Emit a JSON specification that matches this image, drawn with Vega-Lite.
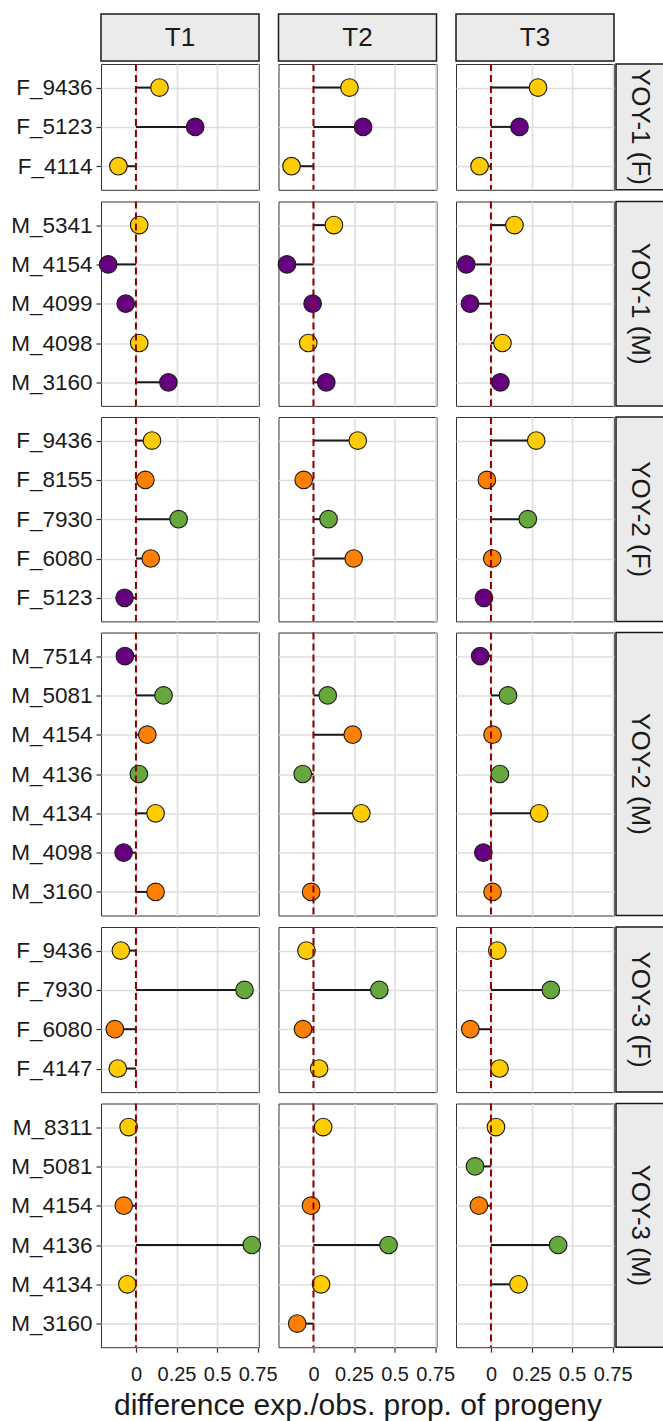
{
  "$schema": "https://vega.github.io/schema/vega-lite/v6.json",
  "background": "white",
  "padding": {"left": 10, "top": 13, "right": 0, "bottom": 0},
  "datasets": {
    "pts": [
      {"cohort": "YOY-1 (F)", "time": "T1", "id": "F_9436", "diff": 0.145, "grp": "B"},
      {"cohort": "YOY-1 (F)", "time": "T1", "id": "F_5123", "diff": 0.365, "grp": "A"},
      {"cohort": "YOY-1 (F)", "time": "T1", "id": "F_4114", "diff": -0.108, "grp": "B"},
      {"cohort": "YOY-1 (F)", "time": "T2", "id": "F_9436", "diff": 0.222, "grp": "B"},
      {"cohort": "YOY-1 (F)", "time": "T2", "id": "F_5123", "diff": 0.306, "grp": "A"},
      {"cohort": "YOY-1 (F)", "time": "T2", "id": "F_4114", "diff": -0.135, "grp": "B"},
      {"cohort": "YOY-1 (F)", "time": "T3", "id": "F_9436", "diff": 0.29, "grp": "B"},
      {"cohort": "YOY-1 (F)", "time": "T3", "id": "F_5123", "diff": 0.176, "grp": "A"},
      {"cohort": "YOY-1 (F)", "time": "T3", "id": "F_4114", "diff": -0.07, "grp": "B"},

      {"cohort": "YOY-1 (M)", "time": "T1", "id": "M_5341", "diff": 0.02, "grp": "B"},
      {"cohort": "YOY-1 (M)", "time": "T1", "id": "M_4154", "diff": -0.171, "grp": "A"},
      {"cohort": "YOY-1 (M)", "time": "T1", "id": "M_4099", "diff": -0.063, "grp": "A"},
      {"cohort": "YOY-1 (M)", "time": "T1", "id": "M_4098", "diff": 0.02, "grp": "B"},
      {"cohort": "YOY-1 (M)", "time": "T1", "id": "M_3160", "diff": 0.2, "grp": "A"},
      {"cohort": "YOY-1 (M)", "time": "T2", "id": "M_5341", "diff": 0.126, "grp": "B"},
      {"cohort": "YOY-1 (M)", "time": "T2", "id": "M_4154", "diff": -0.163, "grp": "A"},
      {"cohort": "YOY-1 (M)", "time": "T2", "id": "M_4099", "diff": -0.005, "grp": "A"},
      {"cohort": "YOY-1 (M)", "time": "T2", "id": "M_4098", "diff": -0.032, "grp": "B"},
      {"cohort": "YOY-1 (M)", "time": "T2", "id": "M_3160", "diff": 0.079, "grp": "A"},
      {"cohort": "YOY-1 (M)", "time": "T3", "id": "M_5341", "diff": 0.145, "grp": "B"},
      {"cohort": "YOY-1 (M)", "time": "T3", "id": "M_4154", "diff": -0.152, "grp": "A"},
      {"cohort": "YOY-1 (M)", "time": "T3", "id": "M_4099", "diff": -0.129, "grp": "A"},
      {"cohort": "YOY-1 (M)", "time": "T3", "id": "M_4098", "diff": 0.071, "grp": "B"},
      {"cohort": "YOY-1 (M)", "time": "T3", "id": "M_3160", "diff": 0.058, "grp": "A"},

      {"cohort": "YOY-2 (F)", "time": "T1", "id": "F_9436", "diff": 0.099, "grp": "B"},
      {"cohort": "YOY-2 (F)", "time": "T1", "id": "F_8155", "diff": 0.058, "grp": "C"},
      {"cohort": "YOY-2 (F)", "time": "T1", "id": "F_7930", "diff": 0.263, "grp": "D"},
      {"cohort": "YOY-2 (F)", "time": "T1", "id": "F_6080", "diff": 0.091, "grp": "C"},
      {"cohort": "YOY-2 (F)", "time": "T1", "id": "F_5123", "diff": -0.07, "grp": "A"},
      {"cohort": "YOY-2 (F)", "time": "T2", "id": "F_9436", "diff": 0.273, "grp": "B"},
      {"cohort": "YOY-2 (F)", "time": "T2", "id": "F_8155", "diff": -0.06, "grp": "C"},
      {"cohort": "YOY-2 (F)", "time": "T2", "id": "F_7930", "diff": 0.093, "grp": "D"},
      {"cohort": "YOY-2 (F)", "time": "T2", "id": "F_6080", "diff": 0.248, "grp": "C"},
      {"cohort": "YOY-2 (F)", "time": "T3", "id": "F_9436", "diff": 0.279, "grp": "B"},
      {"cohort": "YOY-2 (F)", "time": "T3", "id": "F_8155", "diff": -0.025, "grp": "C"},
      {"cohort": "YOY-2 (F)", "time": "T3", "id": "F_7930", "diff": 0.227, "grp": "D"},
      {"cohort": "YOY-2 (F)", "time": "T3", "id": "F_6080", "diff": 0.008, "grp": "C"},
      {"cohort": "YOY-2 (F)", "time": "T3", "id": "F_5123", "diff": -0.043, "grp": "A"},

      {"cohort": "YOY-2 (M)", "time": "T1", "id": "M_7514", "diff": -0.068, "grp": "A"},
      {"cohort": "YOY-2 (M)", "time": "T1", "id": "M_5081", "diff": 0.17, "grp": "D"},
      {"cohort": "YOY-2 (M)", "time": "T1", "id": "M_4154", "diff": 0.07, "grp": "C"},
      {"cohort": "YOY-2 (M)", "time": "T1", "id": "M_4136", "diff": 0.018, "grp": "D"},
      {"cohort": "YOY-2 (M)", "time": "T1", "id": "M_4134", "diff": 0.121, "grp": "B"},
      {"cohort": "YOY-2 (M)", "time": "T1", "id": "M_4098", "diff": -0.076, "grp": "A"},
      {"cohort": "YOY-2 (M)", "time": "T1", "id": "M_3160", "diff": 0.121, "grp": "C"},
      {"cohort": "YOY-2 (M)", "time": "T2", "id": "M_5081", "diff": 0.088, "grp": "D"},
      {"cohort": "YOY-2 (M)", "time": "T2", "id": "M_4154", "diff": 0.242, "grp": "C"},
      {"cohort": "YOY-2 (M)", "time": "T2", "id": "M_4136", "diff": -0.066, "grp": "D"},
      {"cohort": "YOY-2 (M)", "time": "T2", "id": "M_4134", "diff": 0.295, "grp": "B"},
      {"cohort": "YOY-2 (M)", "time": "T2", "id": "M_3160", "diff": -0.014, "grp": "C"},
      {"cohort": "YOY-2 (M)", "time": "T3", "id": "M_7514", "diff": -0.066, "grp": "A"},
      {"cohort": "YOY-2 (M)", "time": "T3", "id": "M_5081", "diff": 0.105, "grp": "D"},
      {"cohort": "YOY-2 (M)", "time": "T3", "id": "M_4154", "diff": 0.01, "grp": "C"},
      {"cohort": "YOY-2 (M)", "time": "T3", "id": "M_4136", "diff": 0.055, "grp": "D"},
      {"cohort": "YOY-2 (M)", "time": "T3", "id": "M_4134", "diff": 0.297, "grp": "B"},
      {"cohort": "YOY-2 (M)", "time": "T3", "id": "M_4098", "diff": -0.047, "grp": "A"},
      {"cohort": "YOY-2 (M)", "time": "T3", "id": "M_3160", "diff": 0.01, "grp": "C"},

      {"cohort": "YOY-3 (F)", "time": "T1", "id": "F_9436", "diff": -0.093, "grp": "B"},
      {"cohort": "YOY-3 (F)", "time": "T1", "id": "F_7930", "diff": 0.669, "grp": "D"},
      {"cohort": "YOY-3 (F)", "time": "T1", "id": "F_6080", "diff": -0.13, "grp": "C"},
      {"cohort": "YOY-3 (F)", "time": "T1", "id": "F_4147", "diff": -0.112, "grp": "B"},
      {"cohort": "YOY-3 (F)", "time": "T2", "id": "F_9436", "diff": -0.043, "grp": "B"},
      {"cohort": "YOY-3 (F)", "time": "T2", "id": "F_7930", "diff": 0.406, "grp": "D"},
      {"cohort": "YOY-3 (F)", "time": "T2", "id": "F_6080", "diff": -0.064, "grp": "C"},
      {"cohort": "YOY-3 (F)", "time": "T2", "id": "F_4147", "diff": 0.035, "grp": "B"},
      {"cohort": "YOY-3 (F)", "time": "T3", "id": "F_9436", "diff": 0.039, "grp": "B"},
      {"cohort": "YOY-3 (F)", "time": "T3", "id": "F_7930", "diff": 0.369, "grp": "D"},
      {"cohort": "YOY-3 (F)", "time": "T3", "id": "F_6080", "diff": -0.127, "grp": "C"},
      {"cohort": "YOY-3 (F)", "time": "T3", "id": "F_4147", "diff": 0.053, "grp": "B"},

      {"cohort": "YOY-3 (M)", "time": "T1", "id": "M_8311", "diff": -0.045, "grp": "B"},
      {"cohort": "YOY-3 (M)", "time": "T1", "id": "M_4154", "diff": -0.075, "grp": "C"},
      {"cohort": "YOY-3 (M)", "time": "T1", "id": "M_4136", "diff": 0.714, "grp": "D"},
      {"cohort": "YOY-3 (M)", "time": "T1", "id": "M_4134", "diff": -0.053, "grp": "B"},
      {"cohort": "YOY-3 (M)", "time": "T2", "id": "M_8311", "diff": 0.06, "grp": "B"},
      {"cohort": "YOY-3 (M)", "time": "T2", "id": "M_4154", "diff": -0.015, "grp": "C"},
      {"cohort": "YOY-3 (M)", "time": "T2", "id": "M_4136", "diff": 0.463, "grp": "D"},
      {"cohort": "YOY-3 (M)", "time": "T2", "id": "M_4134", "diff": 0.047, "grp": "B"},
      {"cohort": "YOY-3 (M)", "time": "T2", "id": "M_3160", "diff": -0.1, "grp": "C"},
      {"cohort": "YOY-3 (M)", "time": "T3", "id": "M_8311", "diff": 0.031, "grp": "B"},
      {"cohort": "YOY-3 (M)", "time": "T3", "id": "M_5081", "diff": -0.098, "grp": "D"},
      {"cohort": "YOY-3 (M)", "time": "T3", "id": "M_4154", "diff": -0.074, "grp": "C"},
      {"cohort": "YOY-3 (M)", "time": "T3", "id": "M_4136", "diff": 0.414, "grp": "D"},
      {"cohort": "YOY-3 (M)", "time": "T3", "id": "M_4134", "diff": 0.17, "grp": "B"}
    ]
  },
  "spacing": 0,
  "vconcat": [
    {
      "hconcat": [
        {"width": 158, "height": 47, "view": {"fill": "#EBEBEB", "stroke": "#1A1A1A", "strokeWidth": 1.5}, "data": {"values": [{"label": "T1"}]}, "mark": {"type": "text", "fontSize": 26, "color": "#1A1A1A"}, "encoding": {"text": {"field": "label", "type": "nominal"}}},
        {"width": 158, "height": 47, "view": {"fill": "#EBEBEB", "stroke": "#1A1A1A", "strokeWidth": 1.5}, "data": {"values": [{"label": "T2"}]}, "mark": {"type": "text", "fontSize": 26, "color": "#1A1A1A"}, "encoding": {"text": {"field": "label", "type": "nominal"}}},
        {"width": 158, "height": 47, "view": {"fill": "#EBEBEB", "stroke": "#1A1A1A", "strokeWidth": 1.5}, "data": {"values": [{"label": "T3"}]}, "mark": {"type": "text", "fontSize": 26, "color": "#1A1A1A"}, "encoding": {"text": {"field": "label", "type": "nominal"}}}
      ],
      "spacing": 19.5,
      "bounds": "flush"
    },
    {
      "spacing": 7.5,
      "vconcat": [
        {
          "spacing": 0,
          "hconcat": [
            {
              "spacing": 19.5, "bounds": "flush",
              "hconcat": [
                {"width": 158, "height": 125.8, "layer": [
                  {"data": {"name": "pts"}, "transform": [{"filter": "datum.cohort == 'YOY-1 (F)' && datum.time == 'T1'"}], "layer": [
                    {"mark": {"type": "rule", "color": "#1A1A1A", "strokeWidth": 2}, "encoding": {"x": {"field": "diff", "type": "quantitative", "scale": {"domain": [-0.2153, 0.7583], "nice": false, "zero": false}, "axis": {"values": [0, 0.25, 0.5, 0.75], "labels": false, "ticks": false, "title": null, "grid": true}}, "x2": {"datum": 0}, "y": {"field": "id", "type": "nominal", "scale": {"type": "point", "padding": 0.6, "domain": ["F_9436", "F_5123", "F_4114"]}, "axis": {"title": null, "grid": true}}}},
                    {"mark": {"type": "circle", "size": 310, "opacity": 1, "stroke": "#1A1A1A", "strokeWidth": 1.1}, "encoding": {"x": {"field": "diff", "type": "quantitative"}, "y": {"field": "id", "type": "nominal"}, "color": {"field": "grp", "type": "nominal", "scale": {"domain": ["A", "B", "C", "D"], "range": ["#660080", "#FFCC00", "#FF8000", "#66A83C"]}, "legend": null}}}
                  ]},
                  {"data": {"values": [{"zero": 0}]}, "mark": {"type": "rule", "color": "#8B0000", "strokeDash": [7, 4], "strokeWidth": 2}, "encoding": {"x": {"field": "zero", "type": "quantitative"}}}
                ]},
                {"width": 158, "height": 125.8, "layer": [
                  {"data": {"name": "pts"}, "transform": [{"filter": "datum.cohort == 'YOY-1 (F)' && datum.time == 'T2'"}], "layer": [
                    {"mark": {"type": "rule", "color": "#1A1A1A", "strokeWidth": 2}, "encoding": {"x": {"field": "diff", "type": "quantitative", "scale": {"domain": [-0.2153, 0.7583], "nice": false, "zero": false}, "axis": {"values": [0, 0.25, 0.5, 0.75], "labels": false, "ticks": false, "title": null, "grid": true}}, "x2": {"datum": 0}, "y": {"field": "id", "type": "nominal", "scale": {"type": "point", "padding": 0.6, "domain": ["F_9436", "F_5123", "F_4114"]}, "axis": {"title": null, "grid": true, "labels": false, "ticks": false}}}},
                    {"mark": {"type": "circle", "size": 310, "opacity": 1, "stroke": "#1A1A1A", "strokeWidth": 1.1}, "encoding": {"x": {"field": "diff", "type": "quantitative"}, "y": {"field": "id", "type": "nominal"}, "color": {"field": "grp", "type": "nominal", "scale": {"domain": ["A", "B", "C", "D"], "range": ["#660080", "#FFCC00", "#FF8000", "#66A83C"]}, "legend": null}}}
                  ]},
                  {"data": {"values": [{"zero": 0}]}, "mark": {"type": "rule", "color": "#8B0000", "strokeDash": [7, 4], "strokeWidth": 2}, "encoding": {"x": {"field": "zero", "type": "quantitative"}}}
                ]},
                {"width": 158, "height": 125.8, "layer": [
                  {"data": {"name": "pts"}, "transform": [{"filter": "datum.cohort == 'YOY-1 (F)' && datum.time == 'T3'"}], "layer": [
                    {"mark": {"type": "rule", "color": "#1A1A1A", "strokeWidth": 2}, "encoding": {"x": {"field": "diff", "type": "quantitative", "scale": {"domain": [-0.2153, 0.7583], "nice": false, "zero": false}, "axis": {"values": [0, 0.25, 0.5, 0.75], "labels": false, "ticks": false, "title": null, "grid": true}}, "x2": {"datum": 0}, "y": {"field": "id", "type": "nominal", "scale": {"type": "point", "padding": 0.6, "domain": ["F_9436", "F_5123", "F_4114"]}, "axis": {"title": null, "grid": true, "labels": false, "ticks": false}}}},
                    {"mark": {"type": "circle", "size": 310, "opacity": 1, "stroke": "#1A1A1A", "strokeWidth": 1.1}, "encoding": {"x": {"field": "diff", "type": "quantitative"}, "y": {"field": "id", "type": "nominal"}, "color": {"field": "grp", "type": "nominal", "scale": {"domain": ["A", "B", "C", "D"], "range": ["#660080", "#FFCC00", "#FF8000", "#66A83C"]}, "legend": null}}}
                  ]},
                  {"data": {"values": [{"zero": 0}]}, "mark": {"type": "rule", "color": "#8B0000", "strokeDash": [7, 4], "strokeWidth": 2}, "encoding": {"x": {"field": "zero", "type": "quantitative"}}}
                ]}
              ]
            },
            {"width": 48, "height": 125.8, "view": {"fill": "#EBEBEB", "stroke": "#1A1A1A", "strokeWidth": 1.5}, "data": {"values": [{"label": "YOY-1 (F)"}]}, "mark": {"type": "text", "angle": 90, "fontSize": 26, "color": "#1A1A1A"}, "encoding": {"text": {"field": "label", "type": "nominal"}}}
          ]
        },
        {
          "spacing": 0,
          "hconcat": [
            {
              "spacing": 19.5, "bounds": "flush",
              "hconcat": [
                {"width": 158, "height": 204.4, "layer": [
                  {"data": {"name": "pts"}, "transform": [{"filter": "datum.cohort == 'YOY-1 (M)' && datum.time == 'T1'"}], "layer": [
                    {"mark": {"type": "rule", "color": "#1A1A1A", "strokeWidth": 2}, "encoding": {"x": {"field": "diff", "type": "quantitative", "scale": {"domain": [-0.2153, 0.7583], "nice": false, "zero": false}, "axis": {"values": [0, 0.25, 0.5, 0.75], "labels": false, "ticks": false, "title": null, "grid": true}}, "x2": {"datum": 0}, "y": {"field": "id", "type": "nominal", "scale": {"type": "point", "padding": 0.6, "domain": ["M_5341", "M_4154", "M_4099", "M_4098", "M_3160"]}, "axis": {"title": null, "grid": true}}}},
                    {"mark": {"type": "circle", "size": 310, "opacity": 1, "stroke": "#1A1A1A", "strokeWidth": 1.1}, "encoding": {"x": {"field": "diff", "type": "quantitative"}, "y": {"field": "id", "type": "nominal"}, "color": {"field": "grp", "type": "nominal", "scale": {"domain": ["A", "B", "C", "D"], "range": ["#660080", "#FFCC00", "#FF8000", "#66A83C"]}, "legend": null}}}
                  ]},
                  {"data": {"values": [{"zero": 0}]}, "mark": {"type": "rule", "color": "#8B0000", "strokeDash": [7, 4], "strokeWidth": 2}, "encoding": {"x": {"field": "zero", "type": "quantitative"}}}
                ]},
                {"width": 158, "height": 204.4, "layer": [
                  {"data": {"name": "pts"}, "transform": [{"filter": "datum.cohort == 'YOY-1 (M)' && datum.time == 'T2'"}], "layer": [
                    {"mark": {"type": "rule", "color": "#1A1A1A", "strokeWidth": 2}, "encoding": {"x": {"field": "diff", "type": "quantitative", "scale": {"domain": [-0.2153, 0.7583], "nice": false, "zero": false}, "axis": {"values": [0, 0.25, 0.5, 0.75], "labels": false, "ticks": false, "title": null, "grid": true}}, "x2": {"datum": 0}, "y": {"field": "id", "type": "nominal", "scale": {"type": "point", "padding": 0.6, "domain": ["M_5341", "M_4154", "M_4099", "M_4098", "M_3160"]}, "axis": {"title": null, "grid": true, "labels": false, "ticks": false}}}},
                    {"mark": {"type": "circle", "size": 310, "opacity": 1, "stroke": "#1A1A1A", "strokeWidth": 1.1}, "encoding": {"x": {"field": "diff", "type": "quantitative"}, "y": {"field": "id", "type": "nominal"}, "color": {"field": "grp", "type": "nominal", "scale": {"domain": ["A", "B", "C", "D"], "range": ["#660080", "#FFCC00", "#FF8000", "#66A83C"]}, "legend": null}}}
                  ]},
                  {"data": {"values": [{"zero": 0}]}, "mark": {"type": "rule", "color": "#8B0000", "strokeDash": [7, 4], "strokeWidth": 2}, "encoding": {"x": {"field": "zero", "type": "quantitative"}}}
                ]},
                {"width": 158, "height": 204.4, "layer": [
                  {"data": {"name": "pts"}, "transform": [{"filter": "datum.cohort == 'YOY-1 (M)' && datum.time == 'T3'"}], "layer": [
                    {"mark": {"type": "rule", "color": "#1A1A1A", "strokeWidth": 2}, "encoding": {"x": {"field": "diff", "type": "quantitative", "scale": {"domain": [-0.2153, 0.7583], "nice": false, "zero": false}, "axis": {"values": [0, 0.25, 0.5, 0.75], "labels": false, "ticks": false, "title": null, "grid": true}}, "x2": {"datum": 0}, "y": {"field": "id", "type": "nominal", "scale": {"type": "point", "padding": 0.6, "domain": ["M_5341", "M_4154", "M_4099", "M_4098", "M_3160"]}, "axis": {"title": null, "grid": true, "labels": false, "ticks": false}}}},
                    {"mark": {"type": "circle", "size": 310, "opacity": 1, "stroke": "#1A1A1A", "strokeWidth": 1.1}, "encoding": {"x": {"field": "diff", "type": "quantitative"}, "y": {"field": "id", "type": "nominal"}, "color": {"field": "grp", "type": "nominal", "scale": {"domain": ["A", "B", "C", "D"], "range": ["#660080", "#FFCC00", "#FF8000", "#66A83C"]}, "legend": null}}}
                  ]},
                  {"data": {"values": [{"zero": 0}]}, "mark": {"type": "rule", "color": "#8B0000", "strokeDash": [7, 4], "strokeWidth": 2}, "encoding": {"x": {"field": "zero", "type": "quantitative"}}}
                ]}
              ]
            },
            {"width": 48, "height": 204.4, "view": {"fill": "#EBEBEB", "stroke": "#1A1A1A", "strokeWidth": 1.5}, "data": {"values": [{"label": "YOY-1 (M)"}]}, "mark": {"type": "text", "angle": 90, "fontSize": 26, "color": "#1A1A1A"}, "encoding": {"text": {"field": "label", "type": "nominal"}}}
          ]
        },
        {
          "spacing": 0,
          "hconcat": [
            {
              "spacing": 19.5, "bounds": "flush",
              "hconcat": [
                {"width": 158, "height": 204.4, "layer": [
                  {"data": {"name": "pts"}, "transform": [{"filter": "datum.cohort == 'YOY-2 (F)' && datum.time == 'T1'"}], "layer": [
                    {"mark": {"type": "rule", "color": "#1A1A1A", "strokeWidth": 2}, "encoding": {"x": {"field": "diff", "type": "quantitative", "scale": {"domain": [-0.2153, 0.7583], "nice": false, "zero": false}, "axis": {"values": [0, 0.25, 0.5, 0.75], "labels": false, "ticks": false, "title": null, "grid": true}}, "x2": {"datum": 0}, "y": {"field": "id", "type": "nominal", "scale": {"type": "point", "padding": 0.6, "domain": ["F_9436", "F_8155", "F_7930", "F_6080", "F_5123"]}, "axis": {"title": null, "grid": true}}}},
                    {"mark": {"type": "circle", "size": 310, "opacity": 1, "stroke": "#1A1A1A", "strokeWidth": 1.1}, "encoding": {"x": {"field": "diff", "type": "quantitative"}, "y": {"field": "id", "type": "nominal"}, "color": {"field": "grp", "type": "nominal", "scale": {"domain": ["A", "B", "C", "D"], "range": ["#660080", "#FFCC00", "#FF8000", "#66A83C"]}, "legend": null}}}
                  ]},
                  {"data": {"values": [{"zero": 0}]}, "mark": {"type": "rule", "color": "#8B0000", "strokeDash": [7, 4], "strokeWidth": 2}, "encoding": {"x": {"field": "zero", "type": "quantitative"}}}
                ]},
                {"width": 158, "height": 204.4, "layer": [
                  {"data": {"name": "pts"}, "transform": [{"filter": "datum.cohort == 'YOY-2 (F)' && datum.time == 'T2'"}], "layer": [
                    {"mark": {"type": "rule", "color": "#1A1A1A", "strokeWidth": 2}, "encoding": {"x": {"field": "diff", "type": "quantitative", "scale": {"domain": [-0.2153, 0.7583], "nice": false, "zero": false}, "axis": {"values": [0, 0.25, 0.5, 0.75], "labels": false, "ticks": false, "title": null, "grid": true}}, "x2": {"datum": 0}, "y": {"field": "id", "type": "nominal", "scale": {"type": "point", "padding": 0.6, "domain": ["F_9436", "F_8155", "F_7930", "F_6080", "F_5123"]}, "axis": {"title": null, "grid": true, "labels": false, "ticks": false}}}},
                    {"mark": {"type": "circle", "size": 310, "opacity": 1, "stroke": "#1A1A1A", "strokeWidth": 1.1}, "encoding": {"x": {"field": "diff", "type": "quantitative"}, "y": {"field": "id", "type": "nominal"}, "color": {"field": "grp", "type": "nominal", "scale": {"domain": ["A", "B", "C", "D"], "range": ["#660080", "#FFCC00", "#FF8000", "#66A83C"]}, "legend": null}}}
                  ]},
                  {"data": {"values": [{"zero": 0}]}, "mark": {"type": "rule", "color": "#8B0000", "strokeDash": [7, 4], "strokeWidth": 2}, "encoding": {"x": {"field": "zero", "type": "quantitative"}}}
                ]},
                {"width": 158, "height": 204.4, "layer": [
                  {"data": {"name": "pts"}, "transform": [{"filter": "datum.cohort == 'YOY-2 (F)' && datum.time == 'T3'"}], "layer": [
                    {"mark": {"type": "rule", "color": "#1A1A1A", "strokeWidth": 2}, "encoding": {"x": {"field": "diff", "type": "quantitative", "scale": {"domain": [-0.2153, 0.7583], "nice": false, "zero": false}, "axis": {"values": [0, 0.25, 0.5, 0.75], "labels": false, "ticks": false, "title": null, "grid": true}}, "x2": {"datum": 0}, "y": {"field": "id", "type": "nominal", "scale": {"type": "point", "padding": 0.6, "domain": ["F_9436", "F_8155", "F_7930", "F_6080", "F_5123"]}, "axis": {"title": null, "grid": true, "labels": false, "ticks": false}}}},
                    {"mark": {"type": "circle", "size": 310, "opacity": 1, "stroke": "#1A1A1A", "strokeWidth": 1.1}, "encoding": {"x": {"field": "diff", "type": "quantitative"}, "y": {"field": "id", "type": "nominal"}, "color": {"field": "grp", "type": "nominal", "scale": {"domain": ["A", "B", "C", "D"], "range": ["#660080", "#FFCC00", "#FF8000", "#66A83C"]}, "legend": null}}}
                  ]},
                  {"data": {"values": [{"zero": 0}]}, "mark": {"type": "rule", "color": "#8B0000", "strokeDash": [7, 4], "strokeWidth": 2}, "encoding": {"x": {"field": "zero", "type": "quantitative"}}}
                ]}
              ]
            },
            {"width": 48, "height": 204.4, "view": {"fill": "#EBEBEB", "stroke": "#1A1A1A", "strokeWidth": 1.5}, "data": {"values": [{"label": "YOY-2 (F)"}]}, "mark": {"type": "text", "angle": 90, "fontSize": 26, "color": "#1A1A1A"}, "encoding": {"text": {"field": "label", "type": "nominal"}}}
          ]
        },
        {
          "spacing": 0,
          "hconcat": [
            {
              "spacing": 19.5, "bounds": "flush",
              "hconcat": [
                {"width": 158, "height": 283.0, "layer": [
                  {"data": {"name": "pts"}, "transform": [{"filter": "datum.cohort == 'YOY-2 (M)' && datum.time == 'T1'"}], "layer": [
                    {"mark": {"type": "rule", "color": "#1A1A1A", "strokeWidth": 2}, "encoding": {"x": {"field": "diff", "type": "quantitative", "scale": {"domain": [-0.2153, 0.7583], "nice": false, "zero": false}, "axis": {"values": [0, 0.25, 0.5, 0.75], "labels": false, "ticks": false, "title": null, "grid": true}}, "x2": {"datum": 0}, "y": {"field": "id", "type": "nominal", "scale": {"type": "point", "padding": 0.6, "domain": ["M_7514", "M_5081", "M_4154", "M_4136", "M_4134", "M_4098", "M_3160"]}, "axis": {"title": null, "grid": true}}}},
                    {"mark": {"type": "circle", "size": 310, "opacity": 1, "stroke": "#1A1A1A", "strokeWidth": 1.1}, "encoding": {"x": {"field": "diff", "type": "quantitative"}, "y": {"field": "id", "type": "nominal"}, "color": {"field": "grp", "type": "nominal", "scale": {"domain": ["A", "B", "C", "D"], "range": ["#660080", "#FFCC00", "#FF8000", "#66A83C"]}, "legend": null}}}
                  ]},
                  {"data": {"values": [{"zero": 0}]}, "mark": {"type": "rule", "color": "#8B0000", "strokeDash": [7, 4], "strokeWidth": 2}, "encoding": {"x": {"field": "zero", "type": "quantitative"}}}
                ]},
                {"width": 158, "height": 283.0, "layer": [
                  {"data": {"name": "pts"}, "transform": [{"filter": "datum.cohort == 'YOY-2 (M)' && datum.time == 'T2'"}], "layer": [
                    {"mark": {"type": "rule", "color": "#1A1A1A", "strokeWidth": 2}, "encoding": {"x": {"field": "diff", "type": "quantitative", "scale": {"domain": [-0.2153, 0.7583], "nice": false, "zero": false}, "axis": {"values": [0, 0.25, 0.5, 0.75], "labels": false, "ticks": false, "title": null, "grid": true}}, "x2": {"datum": 0}, "y": {"field": "id", "type": "nominal", "scale": {"type": "point", "padding": 0.6, "domain": ["M_7514", "M_5081", "M_4154", "M_4136", "M_4134", "M_4098", "M_3160"]}, "axis": {"title": null, "grid": true, "labels": false, "ticks": false}}}},
                    {"mark": {"type": "circle", "size": 310, "opacity": 1, "stroke": "#1A1A1A", "strokeWidth": 1.1}, "encoding": {"x": {"field": "diff", "type": "quantitative"}, "y": {"field": "id", "type": "nominal"}, "color": {"field": "grp", "type": "nominal", "scale": {"domain": ["A", "B", "C", "D"], "range": ["#660080", "#FFCC00", "#FF8000", "#66A83C"]}, "legend": null}}}
                  ]},
                  {"data": {"values": [{"zero": 0}]}, "mark": {"type": "rule", "color": "#8B0000", "strokeDash": [7, 4], "strokeWidth": 2}, "encoding": {"x": {"field": "zero", "type": "quantitative"}}}
                ]},
                {"width": 158, "height": 283.0, "layer": [
                  {"data": {"name": "pts"}, "transform": [{"filter": "datum.cohort == 'YOY-2 (M)' && datum.time == 'T3'"}], "layer": [
                    {"mark": {"type": "rule", "color": "#1A1A1A", "strokeWidth": 2}, "encoding": {"x": {"field": "diff", "type": "quantitative", "scale": {"domain": [-0.2153, 0.7583], "nice": false, "zero": false}, "axis": {"values": [0, 0.25, 0.5, 0.75], "labels": false, "ticks": false, "title": null, "grid": true}}, "x2": {"datum": 0}, "y": {"field": "id", "type": "nominal", "scale": {"type": "point", "padding": 0.6, "domain": ["M_7514", "M_5081", "M_4154", "M_4136", "M_4134", "M_4098", "M_3160"]}, "axis": {"title": null, "grid": true, "labels": false, "ticks": false}}}},
                    {"mark": {"type": "circle", "size": 310, "opacity": 1, "stroke": "#1A1A1A", "strokeWidth": 1.1}, "encoding": {"x": {"field": "diff", "type": "quantitative"}, "y": {"field": "id", "type": "nominal"}, "color": {"field": "grp", "type": "nominal", "scale": {"domain": ["A", "B", "C", "D"], "range": ["#660080", "#FFCC00", "#FF8000", "#66A83C"]}, "legend": null}}}
                  ]},
                  {"data": {"values": [{"zero": 0}]}, "mark": {"type": "rule", "color": "#8B0000", "strokeDash": [7, 4], "strokeWidth": 2}, "encoding": {"x": {"field": "zero", "type": "quantitative"}}}
                ]}
              ]
            },
            {"width": 48, "height": 283.0, "view": {"fill": "#EBEBEB", "stroke": "#1A1A1A", "strokeWidth": 1.5}, "data": {"values": [{"label": "YOY-2 (M)"}]}, "mark": {"type": "text", "angle": 90, "fontSize": 26, "color": "#1A1A1A"}, "encoding": {"text": {"field": "label", "type": "nominal"}}}
          ]
        },
        {
          "spacing": 0,
          "hconcat": [
            {
              "spacing": 19.5, "bounds": "flush",
              "hconcat": [
                {"width": 158, "height": 165.1, "layer": [
                  {"data": {"name": "pts"}, "transform": [{"filter": "datum.cohort == 'YOY-3 (F)' && datum.time == 'T1'"}], "layer": [
                    {"mark": {"type": "rule", "color": "#1A1A1A", "strokeWidth": 2}, "encoding": {"x": {"field": "diff", "type": "quantitative", "scale": {"domain": [-0.2153, 0.7583], "nice": false, "zero": false}, "axis": {"values": [0, 0.25, 0.5, 0.75], "labels": false, "ticks": false, "title": null, "grid": true}}, "x2": {"datum": 0}, "y": {"field": "id", "type": "nominal", "scale": {"type": "point", "padding": 0.6, "domain": ["F_9436", "F_7930", "F_6080", "F_4147"]}, "axis": {"title": null, "grid": true}}}},
                    {"mark": {"type": "circle", "size": 310, "opacity": 1, "stroke": "#1A1A1A", "strokeWidth": 1.1}, "encoding": {"x": {"field": "diff", "type": "quantitative"}, "y": {"field": "id", "type": "nominal"}, "color": {"field": "grp", "type": "nominal", "scale": {"domain": ["A", "B", "C", "D"], "range": ["#660080", "#FFCC00", "#FF8000", "#66A83C"]}, "legend": null}}}
                  ]},
                  {"data": {"values": [{"zero": 0}]}, "mark": {"type": "rule", "color": "#8B0000", "strokeDash": [7, 4], "strokeWidth": 2}, "encoding": {"x": {"field": "zero", "type": "quantitative"}}}
                ]},
                {"width": 158, "height": 165.1, "layer": [
                  {"data": {"name": "pts"}, "transform": [{"filter": "datum.cohort == 'YOY-3 (F)' && datum.time == 'T2'"}], "layer": [
                    {"mark": {"type": "rule", "color": "#1A1A1A", "strokeWidth": 2}, "encoding": {"x": {"field": "diff", "type": "quantitative", "scale": {"domain": [-0.2153, 0.7583], "nice": false, "zero": false}, "axis": {"values": [0, 0.25, 0.5, 0.75], "labels": false, "ticks": false, "title": null, "grid": true}}, "x2": {"datum": 0}, "y": {"field": "id", "type": "nominal", "scale": {"type": "point", "padding": 0.6, "domain": ["F_9436", "F_7930", "F_6080", "F_4147"]}, "axis": {"title": null, "grid": true, "labels": false, "ticks": false}}}},
                    {"mark": {"type": "circle", "size": 310, "opacity": 1, "stroke": "#1A1A1A", "strokeWidth": 1.1}, "encoding": {"x": {"field": "diff", "type": "quantitative"}, "y": {"field": "id", "type": "nominal"}, "color": {"field": "grp", "type": "nominal", "scale": {"domain": ["A", "B", "C", "D"], "range": ["#660080", "#FFCC00", "#FF8000", "#66A83C"]}, "legend": null}}}
                  ]},
                  {"data": {"values": [{"zero": 0}]}, "mark": {"type": "rule", "color": "#8B0000", "strokeDash": [7, 4], "strokeWidth": 2}, "encoding": {"x": {"field": "zero", "type": "quantitative"}}}
                ]},
                {"width": 158, "height": 165.1, "layer": [
                  {"data": {"name": "pts"}, "transform": [{"filter": "datum.cohort == 'YOY-3 (F)' && datum.time == 'T3'"}], "layer": [
                    {"mark": {"type": "rule", "color": "#1A1A1A", "strokeWidth": 2}, "encoding": {"x": {"field": "diff", "type": "quantitative", "scale": {"domain": [-0.2153, 0.7583], "nice": false, "zero": false}, "axis": {"values": [0, 0.25, 0.5, 0.75], "labels": false, "ticks": false, "title": null, "grid": true}}, "x2": {"datum": 0}, "y": {"field": "id", "type": "nominal", "scale": {"type": "point", "padding": 0.6, "domain": ["F_9436", "F_7930", "F_6080", "F_4147"]}, "axis": {"title": null, "grid": true, "labels": false, "ticks": false}}}},
                    {"mark": {"type": "circle", "size": 310, "opacity": 1, "stroke": "#1A1A1A", "strokeWidth": 1.1}, "encoding": {"x": {"field": "diff", "type": "quantitative"}, "y": {"field": "id", "type": "nominal"}, "color": {"field": "grp", "type": "nominal", "scale": {"domain": ["A", "B", "C", "D"], "range": ["#660080", "#FFCC00", "#FF8000", "#66A83C"]}, "legend": null}}}
                  ]},
                  {"data": {"values": [{"zero": 0}]}, "mark": {"type": "rule", "color": "#8B0000", "strokeDash": [7, 4], "strokeWidth": 2}, "encoding": {"x": {"field": "zero", "type": "quantitative"}}}
                ]}
              ]
            },
            {"width": 48, "height": 165.1, "view": {"fill": "#EBEBEB", "stroke": "#1A1A1A", "strokeWidth": 1.5}, "data": {"values": [{"label": "YOY-3 (F)"}]}, "mark": {"type": "text", "angle": 90, "fontSize": 26, "color": "#1A1A1A"}, "encoding": {"text": {"field": "label", "type": "nominal"}}}
          ]
        },
        {
          "spacing": 0,
          "vconcat": [
            {
              "spacing": 0,
              "hconcat": [
                {
                  "spacing": 19.5, "bounds": "flush",
                  "hconcat": [
                    {"width": 158, "height": 243.7, "layer": [
                      {"data": {"name": "pts"}, "transform": [{"filter": "datum.cohort == 'YOY-3 (M)' && datum.time == 'T1'"}], "layer": [
                        {"mark": {"type": "rule", "color": "#1A1A1A", "strokeWidth": 2}, "encoding": {"x": {"field": "diff", "type": "quantitative", "scale": {"domain": [-0.2153, 0.7583], "nice": false, "zero": false}, "axis": {"values": [0, 0.25, 0.5, 0.75], "labels": false, "ticks": true, "title": null, "grid": true}}, "x2": {"datum": 0}, "y": {"field": "id", "type": "nominal", "scale": {"type": "point", "padding": 0.6, "domain": ["M_8311", "M_5081", "M_4154", "M_4136", "M_4134", "M_3160"]}, "axis": {"title": null, "grid": true}}}},
                        {"mark": {"type": "circle", "size": 310, "opacity": 1, "stroke": "#1A1A1A", "strokeWidth": 1.1}, "encoding": {"x": {"field": "diff", "type": "quantitative"}, "y": {"field": "id", "type": "nominal"}, "color": {"field": "grp", "type": "nominal", "scale": {"domain": ["A", "B", "C", "D"], "range": ["#660080", "#FFCC00", "#FF8000", "#66A83C"]}, "legend": null}}}
                      ]},
                      {"data": {"values": [{"zero": 0}]}, "mark": {"type": "rule", "color": "#8B0000", "strokeDash": [7, 4], "strokeWidth": 2}, "encoding": {"x": {"field": "zero", "type": "quantitative"}}}
                    ]},
                    {"width": 158, "height": 243.7, "layer": [
                      {"data": {"name": "pts"}, "transform": [{"filter": "datum.cohort == 'YOY-3 (M)' && datum.time == 'T2'"}], "layer": [
                        {"mark": {"type": "rule", "color": "#1A1A1A", "strokeWidth": 2}, "encoding": {"x": {"field": "diff", "type": "quantitative", "scale": {"domain": [-0.2153, 0.7583], "nice": false, "zero": false}, "axis": {"values": [0, 0.25, 0.5, 0.75], "labels": false, "ticks": true, "title": null, "grid": true}}, "x2": {"datum": 0}, "y": {"field": "id", "type": "nominal", "scale": {"type": "point", "padding": 0.6, "domain": ["M_8311", "M_5081", "M_4154", "M_4136", "M_4134", "M_3160"]}, "axis": {"title": null, "grid": true, "labels": false, "ticks": false}}}},
                        {"mark": {"type": "circle", "size": 310, "opacity": 1, "stroke": "#1A1A1A", "strokeWidth": 1.1}, "encoding": {"x": {"field": "diff", "type": "quantitative"}, "y": {"field": "id", "type": "nominal"}, "color": {"field": "grp", "type": "nominal", "scale": {"domain": ["A", "B", "C", "D"], "range": ["#660080", "#FFCC00", "#FF8000", "#66A83C"]}, "legend": null}}}
                      ]},
                      {"data": {"values": [{"zero": 0}]}, "mark": {"type": "rule", "color": "#8B0000", "strokeDash": [7, 4], "strokeWidth": 2}, "encoding": {"x": {"field": "zero", "type": "quantitative"}}}
                    ]},
                    {"width": 158, "height": 243.7, "layer": [
                      {"data": {"name": "pts"}, "transform": [{"filter": "datum.cohort == 'YOY-3 (M)' && datum.time == 'T3'"}], "layer": [
                        {"mark": {"type": "rule", "color": "#1A1A1A", "strokeWidth": 2}, "encoding": {"x": {"field": "diff", "type": "quantitative", "scale": {"domain": [-0.2153, 0.7583], "nice": false, "zero": false}, "axis": {"values": [0, 0.25, 0.5, 0.75], "labels": false, "ticks": true, "title": null, "grid": true}}, "x2": {"datum": 0}, "y": {"field": "id", "type": "nominal", "scale": {"type": "point", "padding": 0.6, "domain": ["M_8311", "M_5081", "M_4154", "M_4136", "M_4134", "M_3160"]}, "axis": {"title": null, "grid": true, "labels": false, "ticks": false}}}},
                        {"mark": {"type": "circle", "size": 310, "opacity": 1, "stroke": "#1A1A1A", "strokeWidth": 1.1}, "encoding": {"x": {"field": "diff", "type": "quantitative"}, "y": {"field": "id", "type": "nominal"}, "color": {"field": "grp", "type": "nominal", "scale": {"domain": ["A", "B", "C", "D"], "range": ["#660080", "#FFCC00", "#FF8000", "#66A83C"]}, "legend": null}}}
                      ]},
                      {"data": {"values": [{"zero": 0}]}, "mark": {"type": "rule", "color": "#8B0000", "strokeDash": [7, 4], "strokeWidth": 2}, "encoding": {"x": {"field": "zero", "type": "quantitative"}}}
                    ]}
                  ]
                },
                {"width": 48, "height": 243.7, "view": {"fill": "#EBEBEB", "stroke": "#1A1A1A", "strokeWidth": 1.5}, "data": {"values": [{"label": "YOY-3 (M)"}]}, "mark": {"type": "text", "angle": 90, "fontSize": 26, "color": "#1A1A1A"}, "encoding": {"text": {"field": "label", "type": "nominal"}}}
              ]
            },
            {
              "spacing": 19.5, "bounds": "flush",
              "hconcat": [
                {"width": 158, "height": 1, "view": {"stroke": null}, "data": {"values": [{"zero": 0}]}, "mark": {"type": "rule", "opacity": 0}, "encoding": {"x": {"field": "zero", "type": "quantitative", "scale": {"domain": [-0.2153, 0.7583], "nice": false, "zero": false}, "axis": {"values": [0, 0.25, 0.5, 0.75], "labelExpr": "'' + datum.value", "ticks": false, "grid": false, "title": null}}}},
                {"width": 158, "height": 1, "view": {"stroke": null}, "data": {"values": [{"zero": 0}]}, "mark": {"type": "rule", "opacity": 0}, "encoding": {"x": {"field": "zero", "type": "quantitative", "scale": {"domain": [-0.2153, 0.7583], "nice": false, "zero": false}, "axis": {"values": [0, 0.25, 0.5, 0.75], "labelExpr": "'' + datum.value", "ticks": false, "grid": false, "title": "difference exp./obs. prop. of progeny", "titleLimit": 1000}}}},
                {"width": 158, "height": 1, "view": {"stroke": null}, "data": {"values": [{"zero": 0}]}, "mark": {"type": "rule", "opacity": 0}, "encoding": {"x": {"field": "zero", "type": "quantitative", "scale": {"domain": [-0.2153, 0.7583], "nice": false, "zero": false}, "axis": {"values": [0, 0.25, 0.5, 0.75], "labelExpr": "'' + datum.value", "ticks": false, "grid": false, "title": null}}}}
              ]
            }
          ]
        }
      ]
    }
  ],
  "config": {
    "font": "Liberation Sans",
    "view": {"stroke": "#333333", "strokeWidth": 1},
    "axis": {
      "gridColor": "#DEDEDE",
      "gridWidth": 1.6,
      "domain": false,
      "tickColor": "#333333",
      "tickWidth": 1.2,
      "tickSize": 5,
      "labelColor": "#1A1A1A",
      "labelFont": "Liberation Sans",
      "titleFont": "Liberation Sans"
    },
    "axisX": {
      "labelFontSize": 20,
      "labelPadding": 10,
      "labelFlush": false,
      "labelOverlap": false,
      "titleFontSize": 30,
      "titleFontWeight": "normal",
      "titleColor": "#1A1A1A",
      "titlePadding": 6
    },
    "axisY": {"labelFontSize": 22.5, "labelPadding": 4}
  }
}
